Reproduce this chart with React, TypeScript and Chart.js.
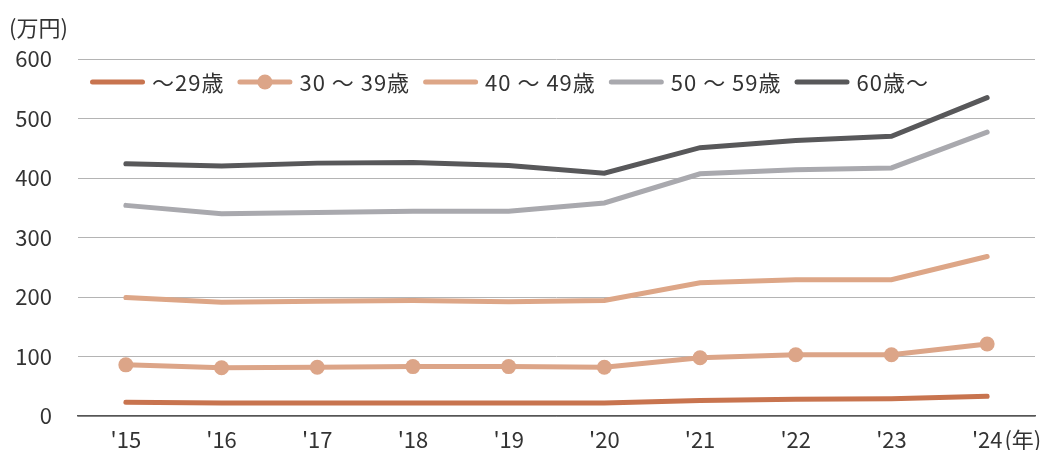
import React, { useEffect, useRef } from "react";
import { Chart, registerables } from "chart.js";

Chart.register(...registerables);

const years = ["'15", "'16", "'17", "'18", "'19", "'20", "'21", "'22", "'23", "'24"];
const seriesNames = ["～29歳", "30 ～ 39歳", "40 ～ 49歳", "50 ～ 59歳", "60歳～"];
const seriesColors = ["#C8744F", "#DCA588", "#DDA687", "#A9A9AE", "#58585A"];
const under29 = [23, 22, 22, 22, 22, 22, 26, 28, 29, 33];
const age30s = [86, 81, 82, 83, 83, 82, 98, 103, 103, 121];
const age40s = [199, 191, 193, 194, 192, 194, 224, 229, 229, 268];
const age50s = [354, 340, 342, 344, 344, 358, 407, 414, 417, 477];
const over60 = [424, 420, 425, 426, 421, 408, 451, 463, 470, 535];
const yTicks = [0, 100, 200, 300, 400, 500, 600];
const yUnit = "(万円)";
const xUnit = "(年)";

const FONT = "'Noto Sans CJK JP', 'Noto Sans', sans-serif";
const FONT_SIZE = 22;
const TEXT_COLOR = "#333333";

const overlayPlugin = {
  id: "overlay",
  afterDraw(chart: any) {
    const ctx = chart.ctx;
    ctx.save();
    ctx.font = `${FONT_SIZE}px ${FONT}`;
    ctx.fillStyle = TEXT_COLOR;
    ctx.textAlign = "left";
    ctx.textBaseline = "middle";
    ctx.fillText(yUnit, 9, 28);
    const xs = chart.scales.x;
    const lastX = xs.getPixelForValue(years.length - 1);
    const w = ctx.measureText(years[years.length - 1]).width;
    ctx.fillText(xUnit, lastX + w / 2 + 2, 440);
    // legend
    try {
      ctx.letterSpacing = "1px";
    } catch (e) {}
    let x = 90;
    const y = 82;
    chart.data.datasets.forEach((ds: any) => {
      ctx.strokeStyle = ds.borderColor;
      ctx.lineWidth = 5;
      ctx.lineCap = "round";
      ctx.beginPath();
      ctx.moveTo(x + 2.5, y);
      ctx.lineTo(x + 52.5, y);
      ctx.stroke();
      if (ds.pointRadius > 0) {
        ctx.fillStyle = ds.borderColor;
        ctx.beginPath();
        ctx.arc(x + 27.5, y, 7.5, 0, Math.PI * 2);
        ctx.fill();
      }
      x += 55 + 7;
      ctx.fillStyle = TEXT_COLOR;
      ctx.fillText(ds.label, x, y + 1);
      x += ctx.measureText(ds.label).width + 13;
    });
    ctx.restore();
  },
};

export default function App() {
  const ref = useRef<HTMLCanvasElement>(null);
  useEffect(() => {
    if (!ref.current) return;
    const values = [under29, age30s, age40s, age50s, over60];
    const chart = new Chart(ref.current, {
      type: "line",
      data: {
        labels: years,
        datasets: values.map((v, i) => ({
          label: seriesNames[i],
          data: v,
          borderColor: seriesColors[i],
          backgroundColor: seriesColors[i],
          borderWidth: 5,
          borderCapStyle: "round" as const,
          pointRadius: i === 1 ? 7.5 : 0,
          pointBorderWidth: 0,
          pointHoverRadius: i === 1 ? 7.5 : 0,
          tension: 0,
          order: 5 - i,
        })),
      },
      options: {
        responsive: false,
        animation: false,
        layout: { padding: { top: 59, left: 0, right: 8, bottom: 0 } },
        plugins: {
          legend: { display: false },
          tooltip: { enabled: false },
        },
        scales: {
          x: {
            offset: true,
            grid: { display: false, drawTicks: false },
            border: { display: true, color: "#555555", width: 1.5 },
            ticks: {
              color: TEXT_COLOR,
              font: { family: FONT, size: FONT_SIZE },
              padding: 10,
              maxRotation: 0,
            },
            afterFit(scale: any) {
              scale.height = 34;
              scale.paddingLeft = 0;
              scale.paddingRight = 0;
              scale.paddingTop = 0;
              scale.paddingBottom = 0;
            },
          },
          y: {
            min: 0,
            max: 600,
            afterBuildTicks(scale: any) {
              scale.ticks = yTicks.map((v) => ({ value: v }));
            },
            grid: { color: "#B4B4B4", lineWidth: 1, drawTicks: false },
            border: { display: false },
            ticks: {
              color: TEXT_COLOR,
              font: { family: FONT, size: FONT_SIZE },
              padding: 26,
            },
            afterFit(scale: any) {
              scale.width = 78;
              scale.paddingTop = 0;
              scale.paddingBottom = 0;
            },
          },
        },
      },
      plugins: [overlayPlugin],
    });
    return () => chart.destroy();
  }, []);
  return (
    <div style={{ position: "fixed", left: 0, top: 0, width: 1043, height: 450, background: "#fff" }}>
      <canvas ref={ref} width={1043} height={450} style={{ display: "block" }} />
    </div>
  );
}
